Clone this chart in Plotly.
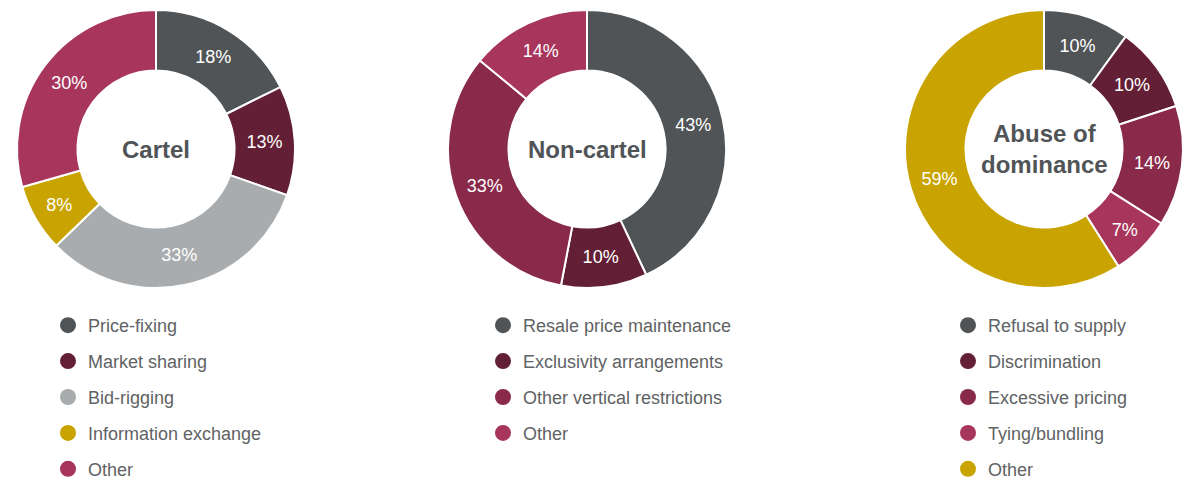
import plotly.graph_objects as go

# Category labels and shares (%) for each case type
cartel_labels = ["Price-fixing", "Market sharing", "Bid-rigging", "Information exchange", "Other"]
cartel_values = [18, 13, 33, 8, 30]

noncartel_labels = ["Resale price maintenance", "Exclusivity arrangements", "Other vertical restrictions", "Other"]
noncartel_values = [43, 10, 33, 14]

abuse_labels = ["Refusal to supply", "Discrimination", "Excessive pricing", "Tying/bundling", "Other"]
abuse_values = [10, 10, 14, 7, 59]

titles = ["Cartel", "Non-cartel", "Abuse of<br>dominance"]

# Palette
DARK_GREY = "#505457"
MAROON = "#631f35"
LIGHT_GREY = "#a9acae"
GOLD = "#c9a400"
PINK = "#a8355c"
WINE = "#8a2a4a"

cartel_colors = [DARK_GREY, MAROON, LIGHT_GREY, GOLD, PINK]
noncartel_colors = [DARK_GREY, MAROON, WINE, PINK]
abuse_colors = [DARK_GREY, MAROON, WINE, PINK, GOLD]

W, H = 1196, 480
FONT = "Liberation Sans"
TEXT_GREY = "#606264"

charts = [
    (cartel_labels, cartel_values, cartel_colors, 156, "legend"),
    (noncartel_labels, noncartel_values, noncartel_colors, 587, "legend2"),
    (abuse_labels, abuse_values, abuse_colors, 1044, "legend3"),
]
radius = 139
cy = 149

fig = go.Figure()
for i, (labels, values, colors, cx, leg) in enumerate(charts):
    fig.add_trace(go.Pie(
        labels=labels,
        values=values,
        hole=0.565,
        sort=False,
        direction="clockwise",
        rotation=0,
        marker=dict(colors=colors, line=dict(color="white", width=2)),
        texttemplate="%{value}%",
        textposition="inside",
        insidetextorientation="horizontal",
        insidetextfont=dict(family=FONT, size=18, color="white"),
        domain=dict(
            x=[(cx - radius) / W, (cx + radius) / W],
            y=[1 - (cy + radius) / H, 1 - (cy - radius) / H],
        ),
        showlegend=False,
        hoverinfo="label+value",
    ))
    fig.add_annotation(
        x=cx / W, y=1 - cy / H, xref="paper", yref="paper",
        text="<b>" + titles[i] + "</b>", showarrow=False,
        font=dict(family=FONT, size=24, color=DARK_GREY),
        xanchor="center", yanchor="middle",
    )
    # Legend entries with round markers
    for j, (lab, col) in enumerate(zip(labels, colors)):
        fig.add_trace(go.Scatter(
            x=[None], y=[None], mode="markers",
            marker=dict(color=col, size=16, symbol="circle"),
            name=lab, legend=leg, legendgroup=f"{leg}-{j}",
            showlegend=True,
        ))

legend_left = [48, 483, 948]
legend_common = dict(
    yanchor="top", xanchor="left",
    font=dict(family=FONT, size=18, color=TEXT_GREY),
    bgcolor="rgba(0,0,0,0)",
    traceorder="grouped",
    tracegroupgap=9.5,
    y=1 - 307 / H,
)
fig.update_layout(
    width=W, height=H,
    margin=dict(l=0, r=0, t=0, b=0, autoexpand=False),
    paper_bgcolor="white",
    plot_bgcolor="white",
    xaxis=dict(visible=False),
    yaxis=dict(visible=False),
    legend=dict(x=legend_left[0] / W, **legend_common),
    legend2=dict(x=legend_left[1] / W, **legend_common),
    legend3=dict(x=legend_left[2] / W, **legend_common),
)

fig.write_html("out.html")
